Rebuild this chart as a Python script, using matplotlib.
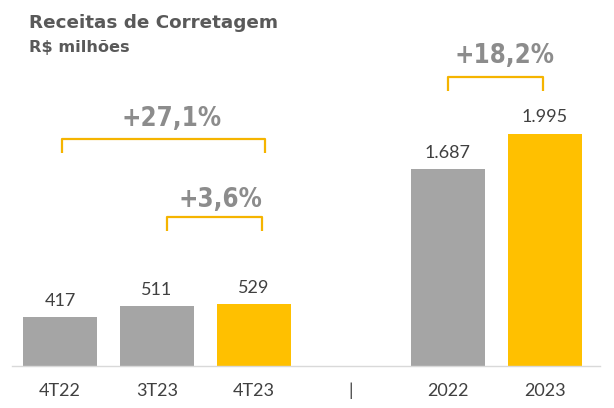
import numpy as np
import matplotlib.pyplot as plt

# Dados (R$ milhões)
categorias = ["4T22", "3T23", "4T23", "|", "2022", "2023"]
valores = [417, 511, 529, np.nan, 1687, 1995]
rotulos = ["417", "511", "529", "", "1.687", "1.995"]
cores = ["#A5A5A5", "#A5A5A5", "#FFC000", "none", "#A5A5A5", "#FFC000"]

# variações: (barra inicial, barra final, texto)
variacoes = [(0, 2, "+27,1%"), (1, 2, "+3,6%"), (4, 5, "+18,2%")]
# posição das chaves: (desl. esq., desl. dir., topo, nível do texto, desl. x do texto)
pos_chave = [(0.02, 0.11, 1948, 2120, 0.08),
             (0.10, 0.08, 1279, 1425, 0.06),
             (0.00, -0.02, 2481, 2661, 0.09)]

cinza_txt = "#404040"
ouro = "#F5B400"

fig = plt.figure(figsize=(6.14, 4.08), dpi=100)
ax = fig.add_axes([11.5 / 614, 42 / 408, 588.5 / 614, 366 / 408])

x = np.arange(len(categorias))
ax.bar(x, np.nan_to_num(valores), width=0.77, color=cores)

for xi, v, r in zip(x, valores, rotulos):
    if r:
        ax.annotate(r, (xi, v), xytext=(0, 6), textcoords="offset points",
                    ha="center", va="bottom", fontsize=13, color=cinza_txt,
                    family="Lato")

# chaves com percentual
for (a, b, txt), (da, db, topo, ytxt, dx) in zip(variacoes, pos_chave):
    x0, x1 = a + da, b + db
    ax.plot([x0, x0, x1, x1], [topo - 120, topo, topo, topo - 120],
            color=ouro, lw=1.6, solid_joinstyle="round", solid_capstyle="butt")
    ax.text((x0 + x1) / 2 + dx, ytxt, txt, ha="center", va="center",
            fontsize=18.5, fontweight="heavy", fontstretch="condensed",
            color="#8C8C8C", family="DejaVu Sans")

ax.set_xlim(-0.5, -0.5 + 588.5 / 97)
ax.set_ylim(0, 366 / 0.1165)
ax.set_xticks(x)
ax.set_xticklabels(categorias, fontsize=13, color=cinza_txt, family="Lato")
ax.tick_params(axis="x", length=0, pad=12)
ax.set_yticks([])
for s in ["top", "right", "left"]:
    ax.spines[s].set_visible(False)
ax.spines["bottom"].set_color("#D9D9D9")
ax.spines["bottom"].set_linewidth(1)

fig.text(29 / 614, 1 - 28 / 408, "Receitas de Corretagem", fontsize=13.2,
         fontweight="bold", color="#595959", va="baseline", family="DejaVu Sans")
fig.text(29 / 614, 1 - 52 / 408, "R$ milhões", fontsize=11.6,
         fontweight="bold", color="#595959", va="baseline", family="DejaVu Sans")

fig.savefig("out.png", dpi=100)
